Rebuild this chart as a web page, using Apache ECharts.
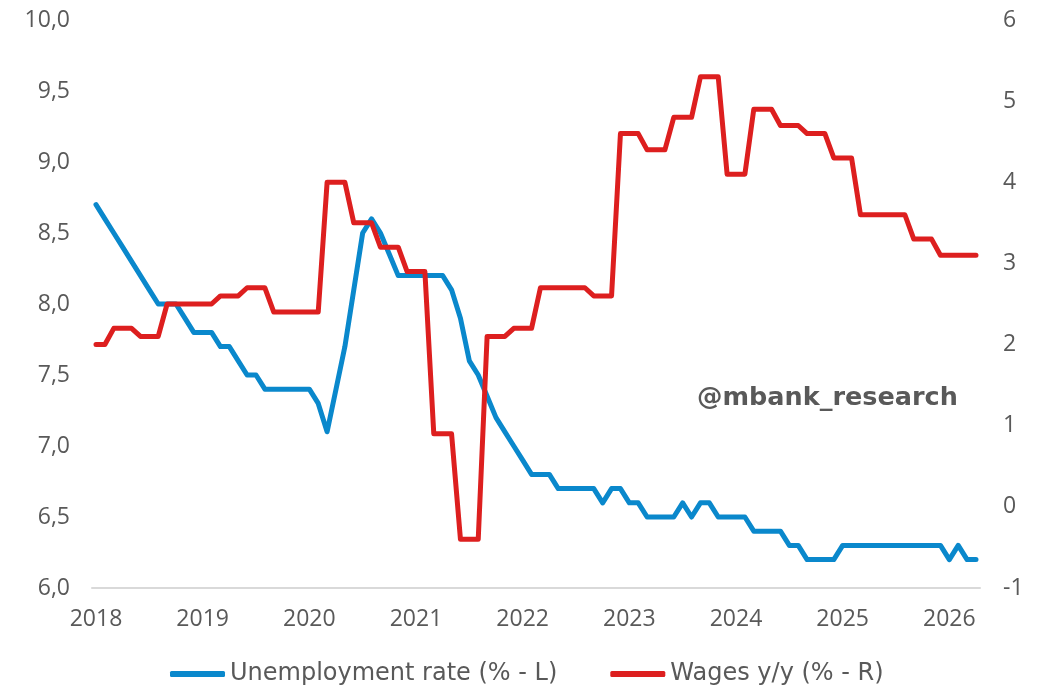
<!DOCTYPE html>
<html>
<head>
<meta charset="utf-8">
<script src="https://cdn.jsdelivr.net/npm/echarts@6/dist/echarts.min.js"></script>
<style>
html,body{margin:0;padding:0;background:#fff;}
#chart{width:1041px;height:687px;}
</style>
</head>
<body>
<div id="chart"></div>
<script>
// Monthly data, Jan 2018 .. Apr 2026 (100 months)
const yearLabels = ['2018','2019','2020','2021','2022','2023','2024','2025','2026'];
const yearTickMonthIndex = [0,12,24,36,48,60,72,84,96];

const unemployment = [
  8.7,8.6,8.5,8.4,8.3,8.2,8.1,8.0,8.0,8.0,7.9,7.8,   // 2018
  7.8,7.8,7.7,7.7,7.6,7.5,7.5,7.4,7.4,7.4,7.4,7.4,   // 2019
  7.4,7.3,7.1,7.4,7.7,8.1,8.5,8.6,8.5,8.35,8.2,8.2,  // 2020
  8.2,8.2,8.2,8.2,8.1,7.9,7.6,7.5,7.35,7.2,7.1,7.0,  // 2021
  6.9,6.8,6.8,6.8,6.7,6.7,6.7,6.7,6.7,6.6,6.7,6.7,   // 2022
  6.6,6.6,6.5,6.5,6.5,6.5,6.6,6.5,6.6,6.6,6.5,6.5,   // 2023
  6.5,6.5,6.4,6.4,6.4,6.4,6.3,6.3,6.2,6.2,6.2,6.2,   // 2024
  6.3,6.3,6.3,6.3,6.3,6.3,6.3,6.3,6.3,6.3,6.3,6.3,   // 2025
  6.2,6.3,6.2,6.2                                    // 2026
];

const wages = [
  2.0,2.0,2.2,2.2,2.2,2.1,2.1,2.1,2.5,2.5,2.5,2.5,   // 2018
  2.5,2.5,2.6,2.6,2.6,2.7,2.7,2.7,2.4,2.4,2.4,2.4,   // 2019
  2.4,2.4,4.0,4.0,4.0,3.5,3.5,3.5,3.2,3.2,3.2,2.9,   // 2020
  2.9,2.9,0.9,0.9,0.9,-0.4,-0.4,-0.4,2.1,2.1,2.1,2.2, // 2021
  2.2,2.2,2.7,2.7,2.7,2.7,2.7,2.7,2.6,2.6,2.6,4.6,   // 2022
  4.6,4.6,4.4,4.4,4.4,4.8,4.8,4.8,5.3,5.3,5.3,4.1,   // 2023
  4.1,4.1,4.9,4.9,4.9,4.7,4.7,4.7,4.6,4.6,4.6,4.3,   // 2024
  4.3,4.3,3.6,3.6,3.6,3.6,3.6,3.6,3.3,3.3,3.3,3.1,   // 2025
  3.1,3.1,3.1,3.1                                    // 2026
];

const seriesNames = ['Unemployment rate (% - L)', 'Wages y/y (% - R)'];
const watermark = '@mbank_research';

const FONT = 'Open Sans';
const WIDE = 'DejaVu Sans';
const GREY = '#595959';

const chart = echarts.init(document.getElementById('chart'), null, {renderer:'canvas'});
chart.setOption({
  animation: false,
  backgroundColor: '#ffffff',
  textStyle: {fontFamily: FONT},
  grid: {left: 92, right: 61, top: 20, bottom: 99, containLabel: false},
  legend: {
    left: 170, top: 662, padding: 0,
    itemWidth: 55, itemHeight: 6, itemGap: 53,
    icon: 'roundRect',
    textStyle: {color: GREY, fontSize: 24, fontFamily: WIDE},
    data: seriesNames
  },
  xAxis: {
    type: 'value',
    min: -0.45, max: 99.45,
    axisLine: {show: true, onZero: false, lineStyle: {color: '#d9d9d9', width: 2}},
    axisTick: {show: false},
    splitLine: {show: false},
    axisLabel: {
      customValues: yearTickMonthIndex,
      formatter: function (v) { return yearLabels[yearTickMonthIndex.indexOf(Math.round(v))] || ''; },
      color: GREY, fontSize: 23, fontFamily: FONT, margin: 20
    }
  },
  yAxis: [
    {
      type: 'value', min: 6, max: 10, interval: 0.5,
      axisLine: {show: false}, axisTick: {show: false}, splitLine: {show: false},
      axisLabel: {
        formatter: function (v) { return v.toFixed(1).replace('.', ','); },
        color: GREY, fontSize: 23, fontFamily: FONT, margin: 22
      }
    },
    {
      type: 'value', min: -1, max: 6, interval: 1,
      axisLine: {show: false}, axisTick: {show: false}, splitLine: {show: false},
      axisLabel: {color: GREY, fontSize: 23, fontFamily: FONT, margin: 23}
    }
  ],
  graphic: [{
    type: 'text', left: 697, top: 385,
    style: {text: watermark, fill: GREY, font: 'bold 25.5px "' + WIDE + '"'}
  }],
  series: [
    {
      name: seriesNames[0], type: 'line', yAxisIndex: 0,
      symbol: 'none', color: '#0a88cc',
      lineStyle: {width: 5, cap: 'round', join: 'round'},
      data: unemployment.map(function (v, i) { return [i, v]; })
    },
    {
      name: seriesNames[1], type: 'line', yAxisIndex: 1,
      symbol: 'none', color: '#dd1f1f',
      lineStyle: {width: 5, cap: 'round', join: 'round'},
      data: wages.map(function (v, i) { return [i, v]; })
    }
  ]
});
</script>
</body>
</html>
